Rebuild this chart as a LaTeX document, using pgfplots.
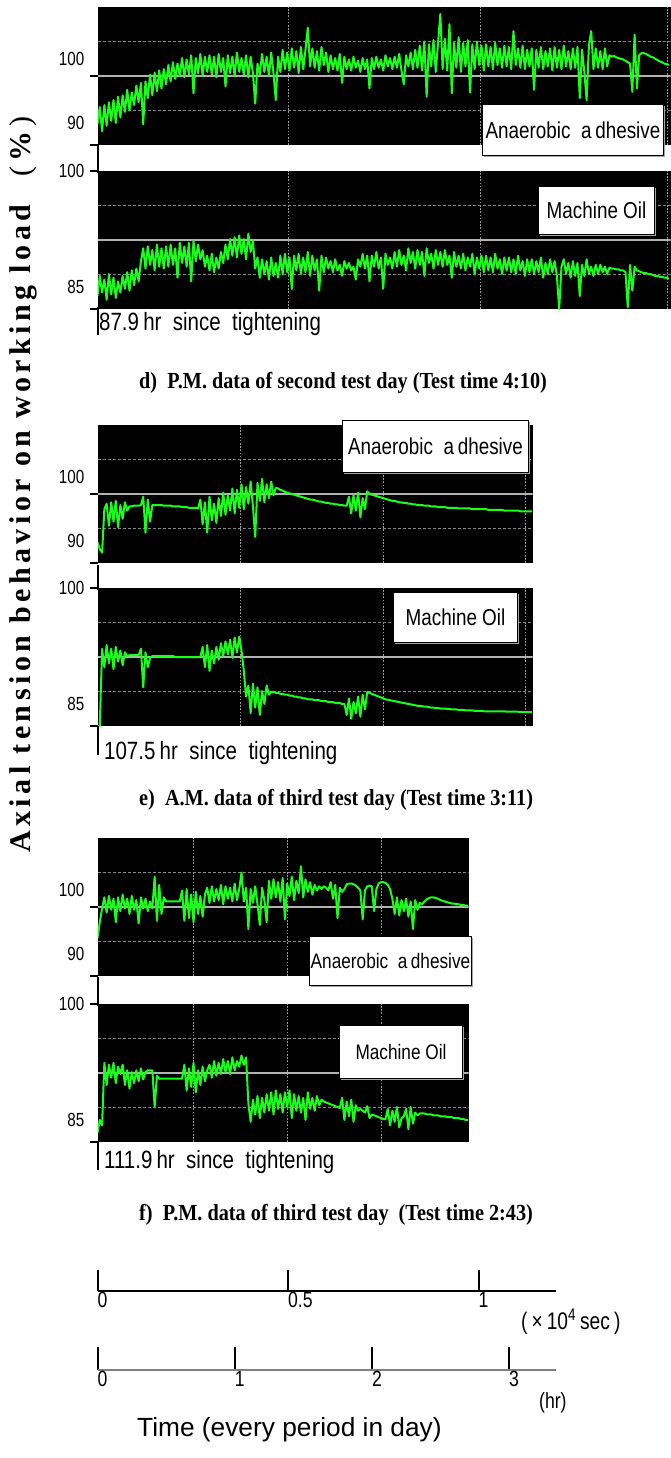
\documentclass[border=0pt]{standalone}
\usepackage{pgfplots}
\pgfplotsset{compat=1.18}
\usepackage{pgfplotstable}
\usepackage{fontspec}
\usetikzlibrary{shadows}
\setmainfont{Liberation Serif}
\newfontfamily\tickfont[FakeStretch=0.8]{Liberation Sans}
\newfontfamily\boxfont[FakeStretch=0.82]{Liberation Sans}
\newfontfamily\plainsans{Liberation Sans}
\newfontfamily\capserif[FakeStretch=0.88]{Liberation Serif}
\newfontfamily\spacedserif[LetterSpace=15]{Liberation Serif}

\definecolor{scopegreen}{RGB}{25,255,25}
\definecolor{midline}{RGB}{178,178,178}
\definecolor{quarterline}{RGB}{135,135,135}
\definecolor{divline}{RGB}{150,150,150}

% Axial tension (% of working load), one sample per minute of the test period
% d) P.M. second test day, anaerobic adhesive
\pgfplotstableread[row sep=\\]{v\\
93.0\\95.5\\92.0\\95.8\\92.8\\96.2\\93.5\\96.5\\93.2\\97.0\\
94.0\\97.2\\94.8\\98.0\\95.0\\97.6\\95.8\\98.6\\96.2\\99.0\\
93.0\\99.2\\96.8\\100.2\\97.2\\100.5\\97.8\\100.8\\98.2\\101.0\\
98.8\\101.6\\99.2\\102.0\\99.6\\101.8\\100.0\\102.6\\99.8\\102.4\\
100.2\\103.0\\97.5\\102.6\\100.4\\103.2\\100.0\\102.8\\100.6\\103.0\\
100.2\\102.8\\99.8\\103.2\\100.6\\102.6\\98.5\\103.0\\100.4\\102.8\\
100.0\\103.4\\100.6\\102.6\\100.2\\103.0\\99.8\\102.8\\100.4\\96.0\\
101.8\\100.2\\103.2\\100.6\\102.8\\100.0\\103.4\\100.4\\96.5\\102.8\\
100.6\\103.8\\101.0\\103.4\\100.8\\104.0\\101.2\\103.6\\100.4\\104.2\\
101.0\\103.8\\107.0\\101.4\\104.0\\101.2\\103.6\\100.8\\104.2\\101.6\\
103.4\\100.6\\103.0\\101.0\\102.6\\100.8\\103.2\\99.0\\102.8\\101.0\\
102.4\\100.8\\102.8\\101.2\\102.2\\100.6\\102.6\\101.0\\102.4\\98.2\\
102.6\\101.0\\102.8\\101.2\\102.4\\100.8\\103.0\\101.4\\102.6\\101.0\\
102.8\\101.2\\103.2\\100.8\\98.8\\103.0\\101.4\\103.4\\101.0\\103.8\\
101.2\\104.4\\100.8\\105.0\\97.0\\104.6\\101.4\\105.2\\100.6\\104.8\\
109.0\\101.0\\105.4\\100.8\\107.5\\97.5\\104.8\\101.2\\105.6\\100.6\\
104.8\\101.4\\105.2\\97.6\\104.6\\101.0\\105.0\\101.6\\104.4\\100.8\\
104.6\\101.4\\104.2\\101.0\\104.8\\101.6\\104.0\\101.2\\104.4\\101.4\\
104.2\\101.0\\106.5\\101.6\\104.0\\101.2\\104.4\\101.0\\103.8\\101.4\\
104.0\\98.0\\103.8\\101.2\\104.2\\101.0\\103.6\\101.4\\104.0\\100.8\\
104.2\\101.2\\103.8\\101.0\\104.4\\101.4\\103.6\\101.0\\104.0\\101.2\\
104.2\\96.8\\103.8\\100.6\\96.5\\104.4\\106.5\\101.0\\104.0\\101.2\\
103.6\\101.0\\104.0\\101.4\\103.0\\102.8\\102.9\\102.7\\102.6\\102.5\\
102.4\\102.2\\102.0\\101.8\\97.7\\106.0\\98.2\\103.0\\103.3\\103.3\\
103.2\\103.0\\102.8\\102.7\\102.5\\102.3\\102.1\\102.0\\101.8\\101.7\\
101.6\\
}\dAdhesive

% d) P.M. second test day, machine oil
\pgfplotstableread[row sep=\\]{v\\
86.4\\88.6\\86.8\\88.2\\86.0\\88.8\\86.6\\88.4\\86.2\\88.0\\
86.8\\88.6\\87.2\\89.0\\87.0\\89.2\\87.6\\89.4\\88.0\\90.2\\
91.6\\89.4\\91.8\\89.8\\91.4\\89.2\\92.0\\89.6\\91.6\\89.4\\
91.8\\89.6\\92.0\\89.8\\91.6\\88.4\\92.2\\90.0\\91.8\\89.6\\
92.2\\88.0\\92.4\\90.2\\92.0\\90.4\\91.4\\89.6\\90.8\\89.2\\
91.0\\89.0\\90.6\\89.4\\91.2\\90.0\\92.0\\90.4\\92.6\\90.8\\
92.8\\90.6\\93.0\\91.0\\92.6\\90.4\\93.2\\91.2\\92.4\\89.4\\
90.6\\88.4\\90.4\\88.8\\90.2\\88.2\\90.6\\88.6\\90.0\\88.4\\
90.8\\88.8\\91.0\\89.0\\90.6\\87.2\\90.8\\89.2\\91.0\\88.8\\
90.6\\89.0\\91.2\\88.6\\90.8\\89.2\\90.4\\87.0\\90.8\\89.0\\
90.6\\89.4\\90.2\\89.0\\90.4\\89.2\\89.8\\88.6\\90.2\\89.4\\
90.0\\89.2\\89.6\\88.2\\90.4\\89.6\\91.0\\89.4\\90.8\\88.0\\
90.8\\89.6\\91.2\\89.4\\90.6\\87.2\\91.0\\89.8\\90.6\\89.4\\
91.2\\89.6\\91.4\\89.8\\90.8\\89.2\\91.6\\90.0\\91.2\\89.4\\
91.4\\89.8\\91.2\\88.6\\91.6\\90.0\\91.0\\89.4\\91.4\\89.8\\
91.2\\89.6\\91.4\\89.8\\90.8\\88.4\\91.2\\89.6\\90.8\\89.4\\
91.0\\89.2\\90.6\\89.6\\91.0\\88.8\\90.6\\89.4\\90.8\\89.0\\
90.8\\89.2\\90.6\\89.0\\91.0\\89.4\\90.4\\88.8\\90.6\\89.2\\
90.6\\89.0\\90.4\\88.8\\90.8\\89.2\\90.2\\88.6\\90.4\\89.0\\
90.4\\88.8\\90.2\\89.0\\90.6\\88.4\\90.0\\88.8\\90.4\\89.0\\
90.2\\88.6\\85.0\\89.6\\90.4\\88.8\\90.0\\88.4\\90.2\\88.6\\
90.0\\86.4\\89.8\\88.6\\90.4\\88.8\\89.6\\88.6\\89.8\\88.8\\
89.8\\89.0\\89.6\\88.8\\89.5\\89.4\\89.4\\89.3\\89.3\\89.2\\
89.2\\89.0\\85.2\\89.8\\87.0\\89.6\\89.2\\89.1\\89.0\\88.9\\
88.9\\88.8\\88.8\\88.7\\88.6\\88.6\\88.5\\88.5\\88.4\\88.4\\
88.3\\
}\dOil

% e) A.M. third test day, anaerobic adhesive
\pgfplotstableread[row sep=\\]{v\\
93.0\\92.0\\91.5\\97.8\\
98.6\\95.4\\98.8\\96.0\\99.0\\95.2\\98.4\\96.4\\98.8\\97.6\\
98.2\\98.2\\98.3\\98.3\\98.3\\
98.4\\99.6\\94.4\\99.2\\96.0\\
98.4\\98.4\\98.4\\98.4\\98.4\\98.3\\98.3\\98.3\\98.3\\98.2\\98.2\\98.2\\98.2\\98.1\\98.1\\98.1\\98.0\\98.0\\98.0\\98.0\\97.9\\
99.2\\95.6\\98.8\\94.4\\99.6\\96.2\\98.6\\95.8\\
99.4\\96.8\\100.2\\97.0\\99.8\\97.6\\100.8\\97.2\\100.6\\98.0\\101.4\\97.8\\101.0\\98.6\\101.8\\98.2\\93.8\\101.6\\99.0\\102.2\\98.8\\101.4\\99.4\\101.8\\99.8\\
100.9\\
100.8\\100.6\\100.5\\100.3\\100.2\\100.1\\100.0\\99.9\\99.8\\99.7\\99.6\\99.5\\99.4\\99.3\\99.2\\99.2\\99.1\\99.0\\98.9\\98.9\\98.8\\98.7\\98.7\\98.6\\98.6\\98.5\\98.5\\98.4\\98.4\\98.3\\98.3\\
99.6\\97.2\\99.8\\97.6\\100.2\\96.6\\99.4\\97.8\\100.4\\
100.0\\
99.9\\99.8\\99.7\\99.6\\99.5\\99.4\\99.3\\99.2\\99.1\\99.0\\99.0\\98.9\\98.8\\98.8\\98.7\\98.7\\98.6\\98.6\\98.5\\98.5\\98.4\\98.4\\98.4\\98.3\\98.3\\98.3\\98.2\\98.2\\98.2\\98.1\\98.1\\98.1\\98.1\\98.0\\98.0\\98.0\\98.0\\98.0\\
97.9\\97.9\\97.9\\97.9\\97.9\\97.9\\97.8\\97.8\\97.8\\97.8\\97.8\\97.8\\97.8\\97.7\\97.7\\97.7\\97.7\\97.7\\97.7\\97.7\\97.6\\97.6\\97.6\\97.6\\97.6\\97.6\\97.6\\97.5\\97.5\\97.5\\97.5\\97.5\\97.5\\
}\eAdhesive

% e) A.M. third test day, machine oil
\pgfplotstableread[row sep=\\]{v\\
85.0\\85.0\\93.4\\
91.4\\93.8\\91.8\\93.4\\91.2\\93.6\\92.0\\93.2\\91.6\\93.0\\92.6\\
92.7\\92.7\\92.7\\92.7\\92.7\\
93.4\\89.2\\93.0\\91.4\\92.4\\
92.6\\92.6\\92.6\\92.6\\92.6\\92.6\\92.6\\92.6\\92.6\\92.6\\92.5\\92.5\\92.5\\92.5\\92.5\\92.5\\92.5\\92.5\\92.5\\92.5\\92.5\\92.5\\
93.6\\91.4\\93.8\\91.0\\93.2\\91.8\\93.6\\
92.2\\94.0\\92.6\\94.2\\92.8\\94.4\\92.4\\94.6\\93.0\\94.7\\93.2\\
91.0\\88.2\\89.4\\
86.4\\89.6\\87.0\\89.2\\86.2\\88.8\\87.4\\89.4\\88.4\\
88.7\\88.7\\88.6\\88.6\\88.5\\88.5\\88.4\\88.4\\88.3\\88.3\\88.2\\88.2\\88.1\\88.1\\88.0\\88.0\\87.9\\87.9\\87.9\\87.8\\87.8\\87.8\\87.7\\87.7\\87.7\\87.6\\87.6\\87.6\\87.5\\87.5\\87.5\\87.4\\87.4\\
86.2\\88.0\\85.8\\87.6\\86.4\\88.2\\86.0\\88.4\\86.8\\88.7\\
88.6\\88.5\\88.4\\88.3\\88.2\\88.1\\88.0\\87.9\\87.85\\87.8\\
87.75\\87.7\\87.65\\87.6\\87.55\\87.5\\87.45\\87.4\\87.35\\87.3\\
87.25\\87.2\\87.2\\87.15\\87.1\\87.1\\87.05\\87.0\\87.0\\86.95\\
86.95\\86.9\\86.9\\86.9\\86.85\\86.85\\86.8\\86.8\\86.8\\86.75\\
86.75\\86.75\\86.7\\86.7\\86.7\\86.7\\86.65\\86.65\\86.65\\86.65\\
86.6\\86.6\\86.6\\86.6\\86.6\\86.6\\86.6\\86.6\\86.6\\86.6\\
86.55\\86.55\\86.55\\86.55\\86.55\\86.55\\86.5\\86.5\\86.5\\86.5\\86.5\\86.5\\
}\eOil

% f) P.M. third test day, anaerobic adhesive
\pgfplotstableread[row sep=\\]{v\\
95.5\\97.8\\99.8\\
101.4\\99.2\\101.6\\99.6\\101.2\\97.8\\101.4\\99.4\\101.8\\99.8\\101.2\\99.0\\101.6\\99.6\\101.0\\97.6\\101.4\\99.8\\101.2\\99.4\\100.8\\99.8\\
104.4\\98.0\\103.2\\99.0\\101.4\\
100.8\\100.8\\100.8\\100.8\\100.8\\100.8\\100.8\\
102.4\\98.0\\102.6\\98.4\\101.8\\97.8\\102.2\\99.0\\101.6\\98.6\\101.8\\
102.8\\100.6\\103.0\\100.8\\102.6\\101.0\\103.2\\100.4\\103.0\\101.2\\102.8\\100.8\\103.4\\101.0\\102.6\\105.0\\
100.8\\102.8\\96.8\\102.6\\100.6\\103.0\\100.4\\97.4\\102.8\\
101.0\\97.8\\103.8\\101.2\\104.0\\101.4\\103.6\\100.8\\104.2\\98.2\\103.4\\101.6\\104.4\\101.0\\103.8\\102.0\\105.9\\101.4\\104.0\\102.2\\103.6\\101.8\\103.2\\102.4\\103.0\\102.6\\
103.0\\102.8\\102.4\\103.6\\101.2\\103.2\\98.4\\102.8\\102.2\\102.6\\
103.3\\103.4\\103.4\\103.3\\103.1\\102.8\\102.4\\
98.2\\102.4\\
103.0\\103.1\\103.0\\
99.4\\102.6\\
103.4\\103.6\\103.6\\103.5\\103.2\\102.6\\
101.2\\99.0\\101.4\\98.8\\101.0\\99.4\\101.2\\98.6\\100.8\\96.8\\101.0\\99.6\\100.6\\
100.4\\100.8\\101.1\\101.3\\101.4\\101.4\\101.3\\101.2\\101.0\\
100.9\\100.8\\100.7\\100.6\\100.5\\100.5\\100.4\\100.4\\100.3\\100.3\\100.2\\100.2\\
}\fAdhesive

% f) P.M. third test day, machine oil
\pgfplotstableread[row sep=\\]{v\\
86.0\\87.4\\86.8\\93.6\\
91.2\\93.4\\92.0\\93.6\\91.4\\93.2\\92.4\\93.4\\
91.2\\92.8\\90.8\\92.6\\91.4\\92.8\\91.6\\93.0\\91.8\\92.6\\92.8\\92.8\\
92.8\\88.8\\92.2\\
91.9\\91.9\\91.9\\91.9\\91.9\\91.9\\91.9\\91.9\\91.9\\91.9\\91.9\\
93.4\\90.6\\93.0\\91.0\\93.6\\90.4\\92.8\\91.2\\93.2\\91.6\\92.8\\
93.4\\92.0\\93.8\\92.2\\93.6\\92.4\\94.0\\92.6\\93.8\\92.4\\94.2\\92.8\\93.8\\93.2\\94.4\\
93.4\\94.2\\89.2\\
87.2\\89.6\\88.0\\90.0\\87.6\\89.8\\88.2\\90.2\\88.4\\90.4\\88.0\\90.6\\88.6\\90.2\\88.2\\90.4\\88.8\\90.6\\87.6\\90.2\\88.4\\90.0\\88.2\\89.8\\87.4\\90.4\\88.6\\89.8\\88.4\\90.0\\89.0\\89.6\\
89.4\\89.3\\89.2\\89.1\\89.0\\88.9\\88.8\\88.7\\
89.8\\87.4\\89.4\\87.8\\89.6\\87.2\\89.0\\88.4\\88.6\\
88.4\\88.2\\88.9\\87.6\\88.0\\87.9\\87.8\\87.7\\87.6\\87.5\\87.5\\
88.6\\86.8\\88.4\\87.2\\88.8\\86.6\\87.6\\87.8\\88.6\\86.4\\88.8\\87.0\\88.2\\87.9\\
88.1\\88.1\\88.1\\88.0\\88.0\\88.0\\87.9\\87.9\\87.9\\87.8\\87.8\\87.8\\87.7\\87.7\\87.7\\87.6\\87.6\\87.6\\87.5\\87.5\\87.4\\87.4\\
}\fOil

\pgfplotsset{
  panel/.style={
    scale only axis, height=138pt, xmin=0,
    axis background/.style={fill=black},
    axis line style={draw=none},
    xticklabels={}, xmajorgrids=true,
    major x grid style={divline, line width=0.9pt, dash pattern=on 1.6pt off 1.6pt},
    ytick pos=left, tick align=outside,
    major tick length=0pt,
    yticklabel style={font=\tickfont\fontsize{19pt}{19pt}\selectfont, inner sep=0pt, xshift=-13pt},
    extra y tick style={major tick length=7pt, tick style={black, line width=1.8pt}},
    extra y tick labels={},
    clip=true,
  },
  upper/.style={panel, ymin=90, ymax=110, ytick={93.2,102.5}, yticklabels={90,100}, extra y ticks={90,100}},
  lower/.style={panel, ymin=85, ymax=100, ytick={87.4,100}, yticklabels={85,100}, extra y ticks={85,100}},
  trace/.style={scopegreen, line width=2pt, line join=round, no markers},
  timeaxis/.style={
    scale only axis, width=458pt, height=30pt, ymin=0, ymax=1, xmin=0,
    axis x line*=bottom, axis y line=none,
    tick align=inside, major tick length=21pt,
    tick style={black, line width=2pt},
    xticklabel style={anchor=north west, inner sep=1pt, xshift=-1pt, yshift=0pt,
      font=\tickfont\fontsize{22pt}{22pt}\selectfont},
  },
}

\newcommand{\panelrules}{%
  \draw[quarterline, line width=1pt, dash pattern=on 3pt off 2pt] (rel axis cs:0,0.25) -- (rel axis cs:1,0.25);
  \draw[quarterline, line width=1pt, dash pattern=on 3pt off 2pt] (rel axis cs:0,0.75) -- (rel axis cs:1,0.75);
  \draw[midline, line width=2.2pt] (rel axis cs:0,0.5) -- (rel axis cs:1,0.5);
}

\tikzset{
  legendbox/.style={draw=black, line width=1pt, fill=white, inner sep=0pt, anchor=north west,
    drop shadow={shadow xshift=1.5pt, shadow yshift=-1.5pt, fill=gray!70, opacity=1},
    font=\boxfont\fontsize{23pt}{23pt}\selectfont},
  smallbox/.style={legendbox, font=\boxfont\fontsize{21pt}{21pt}\selectfont},
  sincetext/.style={anchor=west, inner sep=0pt, font=\boxfont\fontsize{25pt}{25pt}\selectfont},
  caption/.style={anchor=west, inner sep=0pt, font=\capserif\bfseries\fontsize{23pt}{23pt}\selectfont},
}

\begin{document}
\begin{tikzpicture}
\useasboundingbox (0,0) rectangle (670pt,-1458pt);

% ---------- d) ----------
\begin{axis}[upper, at={(97.5pt,-7pt)}, anchor=north west, width=573pt, xmax=250.7, xtick={83.5,167.5,249.3}]
  \panelrules
  \addplot[trace] table[x expr=\coordindex, y=v] {\dAdhesive};
\end{axis}
\begin{axis}[lower, at={(97.5pt,-171pt)}, anchor=north west, width=573pt, xmax=250.7, xtick={83.5,167.5,249.3}]
  \panelrules
  \addplot[trace] table[x expr=\coordindex, y=v] {\dOil};
\end{axis}

% ---------- e) ----------
\begin{axis}[upper, at={(97.5pt,-425pt)}, anchor=north west, width=435pt, xmax=190.3, xtick={62.6,125.1,187.2}]
  \panelrules
  \addplot[trace] table[x expr=\coordindex, y=v] {\eAdhesive};
\end{axis}
\begin{axis}[lower, at={(97.5pt,-588pt)}, anchor=north west, width=435pt, xmax=190.3, xtick={62.6,125.1,187.2}]
  \panelrules
  \addplot[trace] table[x expr=\coordindex, y=v] {\eOil};
\end{axis}

% ---------- f) ----------
\begin{axis}[upper, at={(97.5pt,-838pt)}, anchor=north west, width=371pt, xmax=162.3, xtick={42,83.1,124.2}]
  \panelrules
  \addplot[trace] table[x expr=\coordindex, y=v] {\fAdhesive};
\end{axis}
\begin{axis}[lower, at={(97.5pt,-1004pt)}, anchor=north west, width=371pt, xmax=162.3, xtick={42,83.1,124.2}]
  \panelrules
  \addplot[trace] table[x expr=\coordindex, y=v] {\fOil};
\end{axis}

% left axis stubs between and below the panels
\foreach \ya/\yb in {145/173, 307/335, 565/590, 726/755, 977/1006, 1142/1170}
  \draw[black, line width=2pt] (97.5pt,-\ya pt) -- (97.5pt,-\yb pt);

% labels inside the panels
\node[legendbox, minimum width=181pt, minimum height=51pt] at (482pt,-104pt) {Anaerobic~~a\,dhesive};
\node[legendbox, minimum width=116pt, minimum height=48pt] at (538pt,-186pt) {Machine Oil};
\node[legendbox, minimum width=186pt, minimum height=52pt] at (342pt,-420pt) {Anaerobic~~a\,dhesive};
\node[legendbox, minimum width=124pt, minimum height=50pt] at (393pt,-592pt) {Machine Oil};
\node[smallbox, minimum width=162pt, minimum height=49pt] at (309pt,-936pt) {Anaerobic~~a\,dhesive};
\node[smallbox, minimum width=123pt, minimum height=53pt] at (339pt,-1025pt) {Machine Oil};

\node[sincetext] at (99pt,-324pt) {87.9\,hr~~since~~tightening};
\node[sincetext] at (104pt,-753pt) {107.5\,hr~~since~~tightening};
\node[sincetext] at (104pt,-1162pt) {111.9\,hr~~since~~tightening};

\node[caption] at (139pt,-383pt) {d)~~P.M. data of second test day (Test time 4:10)};
\node[caption] at (139pt,-800pt) {e)~~A.M. data of third test day (Test time 3:11)};
\node[caption] at (139pt,-1215pt) {f)~~P.M. data of third test day~~(Test time 2:43)};

% vertical axis title
\node[rotate=90, anchor=base west, inner sep=0pt] at (30pt,-853pt)
  {\spacedserif\bfseries\fontsize{30pt}{30pt}\selectfont Axial tension behavior on working load\hspace{28pt}{\mdseries(}\,\%\,{\mdseries)}};

% ---------- time scales ----------
\begin{axis}[timeaxis, at={(97.5pt,-1291pt)}, anchor=south west, xmax=1.2021,
  xtick={0,0.5,1}, xticklabels={0,0.5,1}, x axis line style={black, line width=2pt}]
\end{axis}
\node[anchor=west, inner sep=0pt, font=\tickfont\fontsize{24pt}{24pt}\selectfont] at (521pt,-1322pt) {(\,×\,10\textsuperscript{4}\,sec\,)};

\begin{axis}[timeaxis, at={(97.5pt,-1370pt)}, anchor=south west, xmax=3.339,
  xtick={0,1,2,3}, xticklabels={0,1,2,3}, major tick length=23pt,
  x axis line style={gray, line width=2pt}]
\end{axis}
\node[anchor=west, inner sep=0pt, font=\tickfont\fontsize{22pt}{22pt}\selectfont] at (539pt,-1403pt) {(hr)};

\node[anchor=west, inner sep=0pt, font=\plainsans\fontsize{26.3pt}{26.3pt}\selectfont] at (137pt,-1430pt) {Time (every period in day)};
\end{tikzpicture}
\end{document}
